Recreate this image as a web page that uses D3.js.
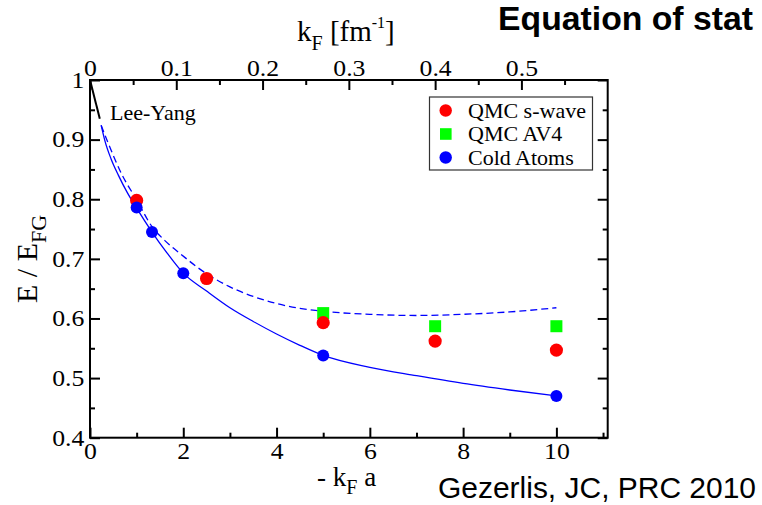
<!DOCTYPE html>
<html><head><meta charset="utf-8">
<script src="https://cdn.jsdelivr.net/npm/d3@7"></script>
<style>body{margin:0;background:#fff}svg{display:block}</style>
</head><body>
<svg id="c" width="762" height="505"></svg>
<script>
// ---- data ----
const qmcSwaveX = [1, 2.5, 5, 7.4, 10];
const qmcSwaveY = [0.798, 0.667, 0.593, 0.562, 0.547];
const qmcAV4X = [5, 7.4, 10];
const qmcAV4Y = [0.609, 0.587, 0.587];
const coldAtomsX = [1, 1.33, 2, 5, 10];
const coldAtomsY = [0.786, 0.745, 0.676, 0.538, 0.470];
const solidCurveX = [0.24, 0.32, 0.45, 0.61, 0.8, 1, 1.33, 1.65, 2, 2.5, 3, 3.5, 4, 4.5, 5, 6, 7, 8, 9, 10];
const solidCurveY = [0.924, 0.898, 0.868, 0.840, 0.811, 0.785, 0.745, 0.710, 0.676, 0.646, 0.618, 0.595, 0.574, 0.555, 0.538, 0.518, 0.504, 0.491, 0.480, 0.470];
const dashedCurveX = [0.24, 0.38, 0.68, 1, 1.33, 1.6, 1.93, 2.5, 3, 3.5, 4, 4.5, 5, 6, 7, 8, 9, 10];
const dashedCurveY = [0.924, 0.896, 0.842, 0.799, 0.754, 0.731, 0.709, 0.675, 0.653, 0.637, 0.625, 0.617, 0.612, 0.607, 0.605, 0.607, 0.611, 0.618];
const leeYangX = [0, 0.21];
const leeYangY = [1.0, 0.935];
const xTicks = [0, 2, 4, 6, 8, 10];
const xMinor = [1, 3, 5, 7, 9, 11];
const yTicks = [0.4, 0.5, 0.6, 0.7, 0.8, 0.9, 1.0];
const yMinor = [0.45, 0.55, 0.65, 0.75, 0.85, 0.95];
const topTicks = [0, 0.1, 0.2, 0.3, 0.4, 0.5];
const topMinor = [0.05, 0.15, 0.25, 0.35, 0.45, 0.55];
const legendNames = ["QMC s-wave", "QMC AV4", "Cold Atoms"];
const legendColors = ["#ff0000", "#00ff00", "#0000ff"];

// ---- layout ----
const L = 90, R = 607.7, T = 80, B = 437.7;
const svg = d3.select("#c");
const x = d3.scaleLinear().domain([0, 11.1]).range([L, R]);
const xTop = d3.scaleLinear().domain([0, 0.6]).range([L, R]);
const y = d3.scaleLinear().domain([0.4, 1.0]).range([B, T]);
const serif = "'Liberation Serif', 'Times New Roman', serif";
const SX = 1.12;

function styleAxis(g, labels) {
  g.select(".domain").remove();
  g.selectAll(".tick line").attr("stroke", "#000").attr("stroke-width", 2);
  g.selectAll(".tick text").attr("fill", "#000").attr("font-family", serif).attr("font-size", 23);
  if (!labels) g.selectAll(".tick text").remove();
}

// bottom
let g = svg.append("g").attr("transform", `translate(0,${B})`)
  .call(d3.axisBottom(x).tickValues(xTicks).tickSize(-10).tickPadding(5).tickFormat(d3.format("d")));
styleAxis(g, true);
g.selectAll(".tick text").attr("transform", `scale(${SX},1)`);
g = svg.append("g").attr("transform", `translate(0,${B})`)
  .call(d3.axisBottom(x).tickValues(xMinor.filter(v => v <= 11.1)).tickSize(-5));
styleAxis(g, false);
// top
g = svg.append("g").attr("transform", `translate(0,${T})`)
  .call(d3.axisTop(xTop).tickValues(topTicks).tickSize(-10).tickPadding(4).tickFormat(d => d === 0 ? "0" : d3.format(".1f")(d)));
styleAxis(g, true);
g.selectAll(".tick text").attr("transform", `scale(${SX},1)`);
g = svg.append("g").attr("transform", `translate(0,${T})`)
  .call(d3.axisTop(xTop).tickValues(topMinor).tickSize(-5));
styleAxis(g, false);
// left
g = svg.append("g").attr("transform", `translate(${L},0)`)
  .call(d3.axisLeft(y).tickValues(yTicks).tickSize(-10).tickPadding(5).tickFormat(d => d === 1 ? "1" : d3.format(".1f")(d)));
styleAxis(g, true);
g.selectAll(".tick text").attr("transform", `scale(${SX},1)`);
g = svg.append("g").attr("transform", `translate(${L},0)`)
  .call(d3.axisLeft(y).tickValues(yMinor).tickSize(-5));
styleAxis(g, false);
// right
g = svg.append("g").attr("transform", `translate(${R},0)`)
  .call(d3.axisRight(y).tickValues(yTicks).tickSize(-10));
styleAxis(g, false);
g = svg.append("g").attr("transform", `translate(${R},0)`)
  .call(d3.axisRight(y).tickValues(yMinor).tickSize(-5));
styleAxis(g, false);

// frame
svg.append("rect").attr("x", L).attr("y", T).attr("width", R - L).attr("height", B - T)
  .attr("fill", "none").attr("stroke", "#000").attr("stroke-width", 2);

// curves
const line = d3.line().x(d => x(d[0])).y(d => y(d[1])).curve(d3.curveMonotoneX);
svg.append("path").datum(solidCurveX.map((v, i) => [v, solidCurveY[i]]))
  .attr("d", line).attr("fill", "none").attr("stroke", "#0000ff").attr("stroke-width", 1.3);
svg.append("path").datum(dashedCurveX.map((v, i) => [v, dashedCurveY[i]]))
  .attr("d", line).attr("fill", "none").attr("stroke", "#0000ff").attr("stroke-width", 1.3)
  .attr("stroke-dasharray", "7,4");
svg.append("path").datum(leeYangX.map((v, i) => [v, leeYangY[i]]))
  .attr("d", d3.line().x(d => x(d[0])).y(d => y(d[1]))).attr("fill", "none")
  .attr("stroke", "#000").attr("stroke-width", 2);

// markers
svg.append("g").selectAll("rect").data(qmcAV4X.map((v, i) => [v, qmcAV4Y[i]])).join("rect")
  .attr("x", d => x(d[0]) - 6).attr("y", d => y(d[1]) - 6).attr("width", 12).attr("height", 12)
  .attr("fill", legendColors[1]);
svg.append("g").selectAll("circle").data(qmcSwaveX.map((v, i) => [v, qmcSwaveY[i]])).join("circle")
  .attr("cx", d => x(d[0])).attr("cy", d => y(d[1])).attr("r", 6.6).attr("fill", legendColors[0]);
svg.append("g").selectAll("circle").data(coldAtomsX.map((v, i) => [v, coldAtomsY[i]])).join("circle")
  .attr("cx", d => x(d[0])).attr("cy", d => y(d[1])).attr("r", 6).attr("fill", legendColors[2]);

// Lee-Yang label
svg.append("text").attr("x", 110).attr("y", 120).attr("font-family", serif).attr("font-size", 22)
  .text("Lee-Yang");

// legend
const lg = svg.append("g");
lg.append("rect").attr("x", 429.5).attr("y", 97).attr("width", 163).attr("height", 73)
  .attr("fill", "#fff").attr("stroke", "#333").attr("stroke-width", 1.2);
legendNames.forEach((n, i) => {
  const cy = 110.5 + i * 23.5;
  if (i === 1) lg.append("rect").attr("x", 440).attr("y", cy - 5.8).attr("width", 11.6).attr("height", 11.6).attr("fill", legendColors[i]);
  else lg.append("circle").attr("cx", 445.7).attr("cy", cy).attr("r", 6.2).attr("fill", legendColors[i]);
  lg.append("text").attr("x", 468).attr("y", cy + 7).attr("font-family", serif).attr("font-size", 22).text(n);
});

// axis titles
const tt = svg.append("text").attr("x", 297).attr("y", 41).attr("font-family", serif).attr("font-size", 29);
tt.append("tspan").text("k");
tt.append("tspan").attr("font-size", 20).attr("dy", 9).text("F");
tt.append("tspan").attr("dy", -9).text(" [fm");
tt.append("tspan").attr("font-size", 16).attr("dy", -13).text("-1");
tt.append("tspan").attr("dy", 13).text("]");

const xl = svg.append("text").attr("x", 317).attr("y", 486).attr("font-family", serif).attr("font-size", 27);
xl.append("tspan").text("- k");
xl.append("tspan").attr("font-size", 20).attr("dy", 8).text("F");
xl.append("tspan").attr("dy", -8).text(" a");

const yl = svg.append("text").attr("transform", "translate(37,303) rotate(-90)")
  .attr("font-family", serif).attr("font-size", 30);
yl.append("tspan").text("E / E");
yl.append("tspan").attr("font-size", 22).attr("dy", 9).text("FG");

// slide annotations
svg.append("text").attr("x", 498).attr("y", 30).attr("font-family", "'Liberation Sans', Arial, sans-serif")
  .attr("font-weight", "bold").attr("font-size", 32.5).attr("textLength", 255)
  .attr("lengthAdjust", "spacingAndGlyphs").text("Equation of stat");
svg.append("text").attr("x", 438).attr("y", 498).attr("font-family", "'Liberation Sans', Arial, sans-serif")
  .attr("font-size", 29).attr("textLength", 318).attr("lengthAdjust", "spacingAndGlyphs")
  .text("Gezerlis, JC, PRC 2010");
</script>
</body></html>
